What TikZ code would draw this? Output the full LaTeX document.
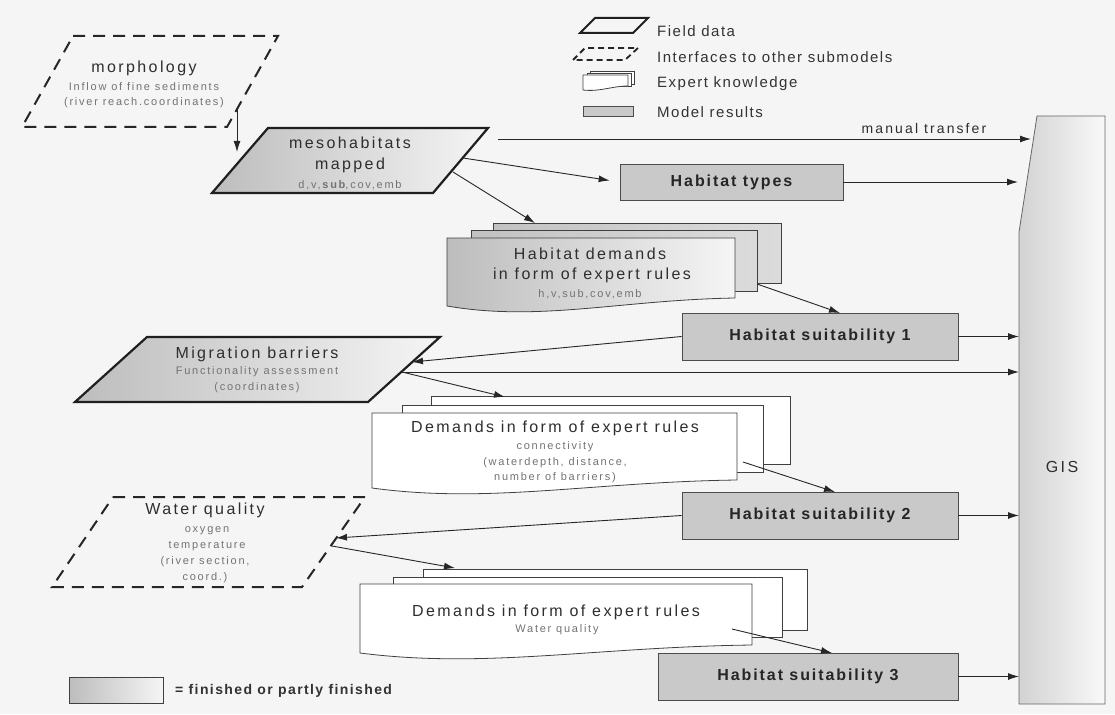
\documentclass[tikz,border=0pt]{standalone}
\usepackage{fontspec}
\setmainfont{Liberation Sans}
\newfontfamily\fTitle[LetterSpace=15]{Liberation Sans}
\newfontfamily\fSub[LetterSpace=16]{Liberation Sans}
\newfontfamily\fLeg[LetterSpace=10]{Liberation Sans}
\newfontfamily\fRes[LetterSpace=12]{Liberation Sans}
\usetikzlibrary{arrows.meta}
\tikzset{
  ttl/.style={font=\fTitle\fontsize{16}{18}\selectfont, text=black!82, inner sep=0pt},
  sub/.style={font=\fSub\fontsize{11}{13}\selectfont, text=black!55, inner sep=0pt},
  leg/.style={font=\fLeg\fontsize{15}{17}\selectfont, text=black!80, anchor=west, inner sep=0pt},
  resbox/.style={draw=black!70, line width=0.9pt, fill=gray!42, inner sep=0pt,
    font=\fRes\bfseries\fontsize{16}{18}\selectfont, text=black!85},
  fin/.style={left color=gray!52, right color=gray!8},
  finback/.style={left color=gray!48, right color=gray!28},
  fieldline/.style={draw=black!88, line width=2.2pt, line join=miter},
  ifaceline/.style={draw=black!85, line width=2pt, dash pattern=on 12pt off 8pt},
  expline/.style={draw=black!75, line width=0.8pt},
  conn/.style={draw=black!85, line width=0.9pt, -{Latex[length=11pt,width=7pt]}},
}
\begin{document}
\begin{tikzpicture}[x=1pt,y=-1pt]
\fill[black!4] (0,0) rectangle (1115,714);

% ---------- legend (top) ----------
\draw[fieldline, line width=2pt] (580,33) -- (595,18) -- (648,18) -- (633,33) -- cycle;
\node[leg] (lg1) at (657,31) {Field data};
\draw[ifaceline, line width=1.8pt, dash pattern=on 6pt off 4pt] (573,60) -- (585,48) -- (638,48) -- (625,60) -- cycle;
\node[leg] (lg2) at (657,57) {Interfaces to other submodels};
\draw[expline, fill=white] (590,71) rectangle (634,84);
\draw[expline, fill=white] (587,73) rectangle (631,86);
\draw[expline, fill=white] (583,75) -- (628,75) -- (628,86) .. controls (612,86) and (600,92) .. (583,90) -- cycle;
\node[leg] (lg3) at (657,84) {Expert knowledge};
\draw[resbox] (583,106) rectangle (633,116);
\node[leg] (lg4) at (657,112) {Model results};

% ---------- GIS ----------
\draw[draw=black!60, line width=0.8pt, left color=gray!35, right color=gray!5]
  (1037,116) -- (1105,116) -- (1105,704) -- (1019,704) -- (1019,232) -- cycle;
\node[ttl] (gis) at (1062,467) {GIS};

% ---------- morphology ----------
\draw[ifaceline] (73,36) -- (278,36) -- (227,127) -- (22,127) -- cycle;
\node[ttl] (morph) at (144,68) {morphology};
\node[sub] (morph1) at (144,87) {Inflow of fine sediments};
\node[sub] (morph2) at (144,103) {(river reach.coordinates)};

% ---------- mesohabitats ----------
\draw[fieldline, fin] (268,128) -- (488,128) -- (433,193) -- (212,193) -- cycle;
\node[ttl] (meso) at (350,143) {mesohabitats};
\node[ttl] (meso1) at (350,165) {mapped};
\node[sub] (meso2) at (350,185) {d,v,\textbf{sub},cov,emb};

% ---------- habitat types ----------
\node[resbox, minimum width=223pt, minimum height=36pt] (types) at (731.5,182) {Habitat types};

% ---------- habitat demands (stack 1) ----------
\draw[expline, finback] (493,223) rectangle (781,283);
\draw[expline, finback] (471,230) rectangle (757,291);
\draw[expline, fin] (447,238) -- (735,238) -- (735,298) .. controls (620,300) and (540,322) .. (447,306) -- cycle;
\node[ttl] (dem1) at (590,254) {Habitat demands};
\node[ttl] (dem1a) at (592,275) {in form of expert rules};
\node[sub] (dem1b) at (590,294) {h,v,sub,cov,emb};

% ---------- habitat suitability boxes ----------
\node[resbox, minimum width=276pt, minimum height=47pt] (hs1) at (820,336.5) {Habitat suitability 1};
\node[resbox, minimum width=276pt, minimum height=47pt] (hs2) at (820,515.5) {Habitat suitability 2};
\node[resbox, minimum width=300pt, minimum height=47pt] (hs3) at (808,676.5) {Habitat suitability 3};

% ---------- migration barriers ----------
\draw[fieldline, fin] (147,337) -- (440,337) -- (368,402) -- (75,402) -- cycle;
\node[ttl] (mb) at (257,354) {Migration barriers};
\node[sub] (mb1) at (257,372) {Functionality assessment};
\node[sub] (mb2) at (257,388) {(coordinates)};

% ---------- demands stack 2 ----------
\draw[expline, fill=white] (431,396) rectangle (790,464);
\draw[expline, fill=white] (402,405) rectangle (763,472);
\draw[expline, fill=white] (372,413) -- (737,413) -- (737,480) .. controls (591,482) and (489,504) .. (372,488) -- cycle;
\node[ttl] (dem2) at (555,428) {Demands in form of expert rules};
\node[sub] (dem2a) at (555,447) {connectivity};
\node[sub] (dem2b) at (555,463) {(waterdepth, distance,};
\node[sub] (dem2c) at (555,478) {number of barriers)};

% ---------- water quality ----------
\draw[ifaceline] (113,497) -- (365,497) -- (302,587) -- (52,587) -- cycle;
\node[ttl] (wq) at (205,510) {Water quality};
\node[sub] (wq1) at (207,531) {oxygen};
\node[sub] (wq2) at (207,546) {temperature};
\node[sub] (wq3) at (205,562) {(river section,};
\node[sub] (wq4) at (205,578) {coord.)};

% ---------- demands stack 3 ----------
\draw[expline, fill=white] (423,569) rectangle (807,630);
\draw[expline, fill=white] (393,577) rectangle (782,637);
\draw[expline, fill=white] (360,584) -- (752,584) -- (752,645) .. controls (595,647) and (485,669) .. (360,653) -- cycle;
\node[ttl] (dem3) at (556,612) {Demands in form of expert rules};
\node[sub] (dem3a) at (557,630) {Water quality};

% ---------- legend (bottom) ----------
\draw[expline, fin] (69,677) rectangle (163,703);
\node[font=\fLeg\bfseries\fontsize{14}{16}\selectfont, text=black!80, anchor=west, inner sep=0pt] (lgfin) at (175,691) {= finished or partly finished};

% ---------- connector end points ----------
\coordinate (morph-out) at (237,110);
\coordinate (meso-in) at (237,152);
\coordinate (mt-start) at (498,139);
\coordinate (gis-mt) at (1031,139);
\coordinate (meso-o1) at (463,158);
\coordinate (meso-o2) at (453,172);
\coordinate (dem1-in) at (535,223);
\coordinate (gis-types) at (1018,182);
\coordinate (dem1-out) at (757,284);
\coordinate (hs1-in) at (840,313);
\coordinate (gis-hs1) at (1019,336.5);
\coordinate (mb-in) at (412,362);
\coordinate (mb-out) at (402,372);
\coordinate (gis-mb) at (1019,372);
\coordinate (dem2-in) at (505,397);
\coordinate (dem2-out) at (743,462);
\coordinate (hs2-in) at (835,492);
\coordinate (gis-hs2) at (1019,515.5);
\coordinate (wq-in) at (336,538);
\coordinate (wq-out) at (332,546);
\coordinate (dem3-in) at (455,568);
\coordinate (dem3-out) at (732,629);
\coordinate (hs3-in) at (832,653);
\coordinate (gis-hs3) at (1019,676.5);

% ---------- connectors ----------
\draw[conn] (morph-out) -- (meso-in);
\draw[conn] (mt-start) -- (gis-mt);
\node[font=\fTitle\fontsize{14}{16}\selectfont, text=black!82, inner sep=0pt] (mtlabel) at (924,128) {manual transfer};
\draw[conn, shorten >=10pt] (meso-o1) -- (types.west);
\draw[conn] (meso-o2) -- (dem1-in);
\draw[conn] (types.east) -- (gis-types);
\draw[conn] (dem1-out) -- (hs1-in);
\draw[conn] (hs1.east) -- (gis-hs1);
\draw[conn] (hs1.west) -- (mb-in);
\draw[conn] (mb-out) -- (gis-mb);
\draw[conn] (mb-out) -- (dem2-in);
\draw[conn] (dem2-out) -- (hs2-in);
\draw[conn] (hs2.east) -- (gis-hs2);
\draw[conn] (hs2.west) -- (wq-in);
\draw[conn] (wq-out) -- (dem3-in);
\draw[conn] (dem3-out) -- (hs3-in);
\draw[conn] (hs3.east) -- (gis-hs3);
\end{tikzpicture}
\end{document}
